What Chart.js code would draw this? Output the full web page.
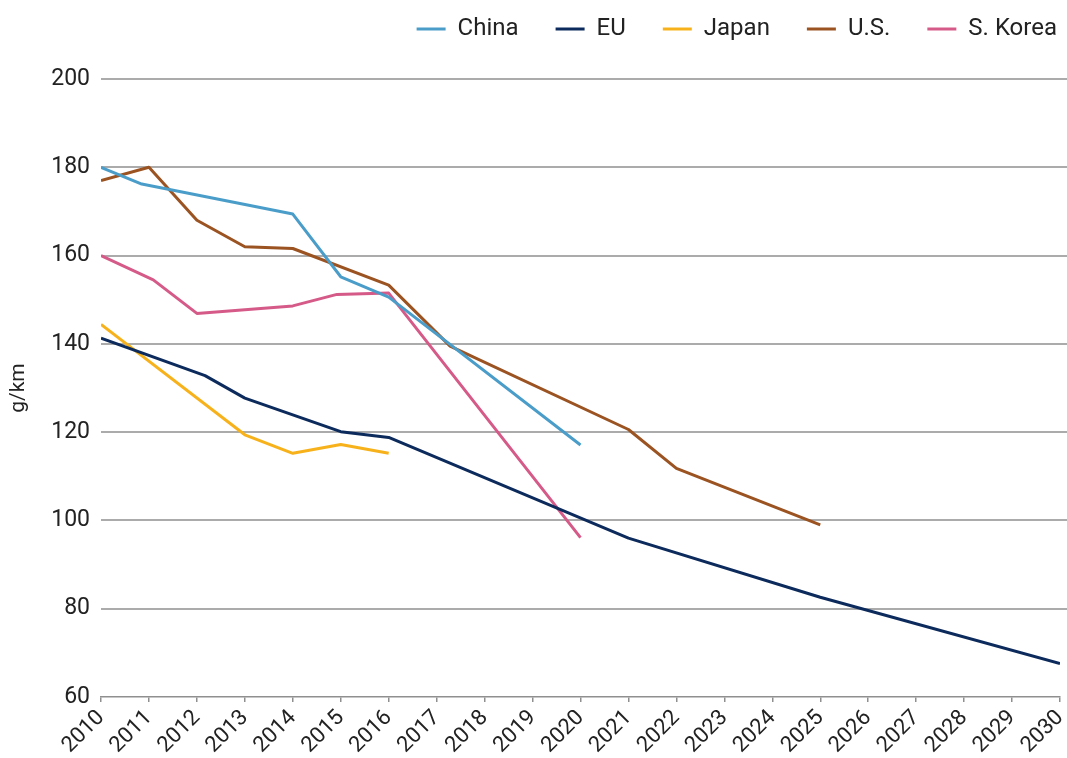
<!DOCTYPE html>
<html>
<head>
<meta charset="utf-8">
<title>g/km by region</title>
<script src="https://cdn.jsdelivr.net/npm/chart.js@4"></script>
<style>
  body { margin: 0; background: #fff; }
  #wrap { width: 1067px; height: 758px; }
</style>
</head>
<body>
<div id="wrap"><canvas id="myChart" width="1067" height="758"></canvas></div>
<script>
// values
var seriesNames = ["China", "EU", "Japan", "U.S.", "S. Korea"];

var chinaYears = [2010, 2010.85, 2014, 2015, 2016, 2020];
var chinaValues = [180, 176.2, 169.4, 155.2, 150.6, 117.1];

var euYears = [2010, 2012.17, 2013, 2015, 2016, 2021, 2025, 2030];
var euValues = [141.3, 132.8, 127.7, 120.1, 118.8, 96, 82.6, 67.6];

var japanYears = [2010, 2013, 2014, 2015, 2016];
var japanValues = [144.4, 119.4, 115.2, 117.2, 115.2];

var usYears = [2010, 2011, 2012, 2013, 2014, 2016, 2017.28, 2021, 2022, 2025];
var usValues = [177, 180, 168, 162, 161.6, 153.3, 139.5, 120.6, 111.8, 99];

var koreaYears = [2010, 2011.09, 2012, 2014, 2014.92, 2016, 2020];
var koreaValues = [160, 154.5, 146.9, 148.6, 151.2, 151.5, 96.1];

var colors = ["#4a9dc9", "#0c2b5c", "#f7b21b", "#9b5322", "#d55a88"];

function toPoints(xs, ys) {
  return xs.map(function (x, i) {
    return { x: x, y: ys[i] };
  });
}

Chart.defaults.font.family = "Roboto";
Chart.defaults.color = "#222";

var gridGray = "#8f8f8f";
var legendGap = 37;

// y gridlines drawn by hand so they can run past the last x tick to the canvas edge
var gridFull = {
  id: "gridFull",
  beforeDatasetsDraw: function (chart) {
    var y = chart.scales.y;
    var ctx = chart.ctx;
    ctx.save();
    ctx.strokeStyle = gridGray;
    ctx.lineWidth = 1.5;
    y.ticks.forEach(function (t) {
      if (t.value <= y.min) return;
      var py = Math.round(y.getPixelForValue(t.value));
      ctx.beginPath();
      ctx.moveTo(chart.chartArea.left, py);
      ctx.lineTo(chart.width, py);
      ctx.stroke();
    });
    ctx.restore();
  },
};

// legend sits high and hugs the right edge
var legendPlace = {
  id: "legendPlace",
  beforeInit: function (chart) {
    var orig = chart.legend.fit;
    chart.legend.fit = function () {
      orig.call(this);
      this.height = 79;
    };
  },
  beforeDraw: function (chart) {
    chart.legend.top = 27 - legendGap - 10;
    chart.legend.right = 1057 + legendGap;
  },
};

var datasets = [
  toPoints(chinaYears, chinaValues),
  toPoints(euYears, euValues),
  toPoints(japanYears, japanValues),
  toPoints(usYears, usValues),
  toPoints(koreaYears, koreaValues),
].map(function (pts, i) {
  return {
    label: seriesNames[i],
    data: pts,
    borderColor: colors[i],
    backgroundColor: colors[i],
    borderWidth: 3,
    pointRadius: 0,
    tension: 0,
    borderJoinStyle: "round",
  };
});

var ctx = document.getElementById("myChart").getContext("2d");
var myChart = new Chart(ctx, {
  type: "line",
  data: { datasets: datasets },
  plugins: [gridFull, legendPlace],
  options: {
    responsive: false,
    animation: false,
    layout: { padding: { left: 0, right: 7, top: 0, bottom: 0 } },
    plugins: {
      tooltip: { enabled: false },
      legend: {
        position: "top",
        align: "end",
        labels: {
          boxWidth: 29,
          boxHeight: 3,
          padding: legendGap,
          font: { size: 24 },
          color: "#222",
          generateLabels: function (chart) {
            var items = Chart.defaults.plugins.legend.labels.generateLabels(chart);
            items.forEach(function (it) {
              it.lineWidth = 0;
              it.strokeStyle = "rgba(0,0,0,0)";
            });
            return items;
          },
        },
      },
    },
    scales: {
      x: {
        type: "linear",
        min: 2010,
        max: 2030,
        ticks: {
          stepSize: 1,
          minRotation: 45,
          maxRotation: 45,
          font: { size: 22 },
          color: "#222",
          padding: 3,
          callback: function (v) {
            return String(v);
          },
        },
        grid: {
          drawOnChartArea: false,
          drawTicks: true,
          tickLength: 5,
          color: gridGray,
          lineWidth: 1.5,
        },
        border: { display: true, color: gridGray, width: 1.5 },
        afterFit: function (scale) {
          scale.height = 61;
          scale.paddingLeft = 0;
          scale.paddingRight = 0;
        },
      },
      y: {
        min: 60,
        max: 200,
        ticks: {
          stepSize: 20,
          font: { size: 23 },
          color: "#222",
          padding: 11,
        },
        grid: {
          drawOnChartArea: false,
          drawTicks: false,
        },
        border: { display: false },
        title: {
          display: true,
          text: "g/km",
          font: { size: 21 },
          color: "#222",
          padding: { top: 6, bottom: 0 },
        },
        afterFit: function (scale) {
          scale.width = 101;
          scale.paddingTop = 0;
          scale.paddingBottom = 0;
        },
      },
    },
  },
});
</script>
</body>
</html>
